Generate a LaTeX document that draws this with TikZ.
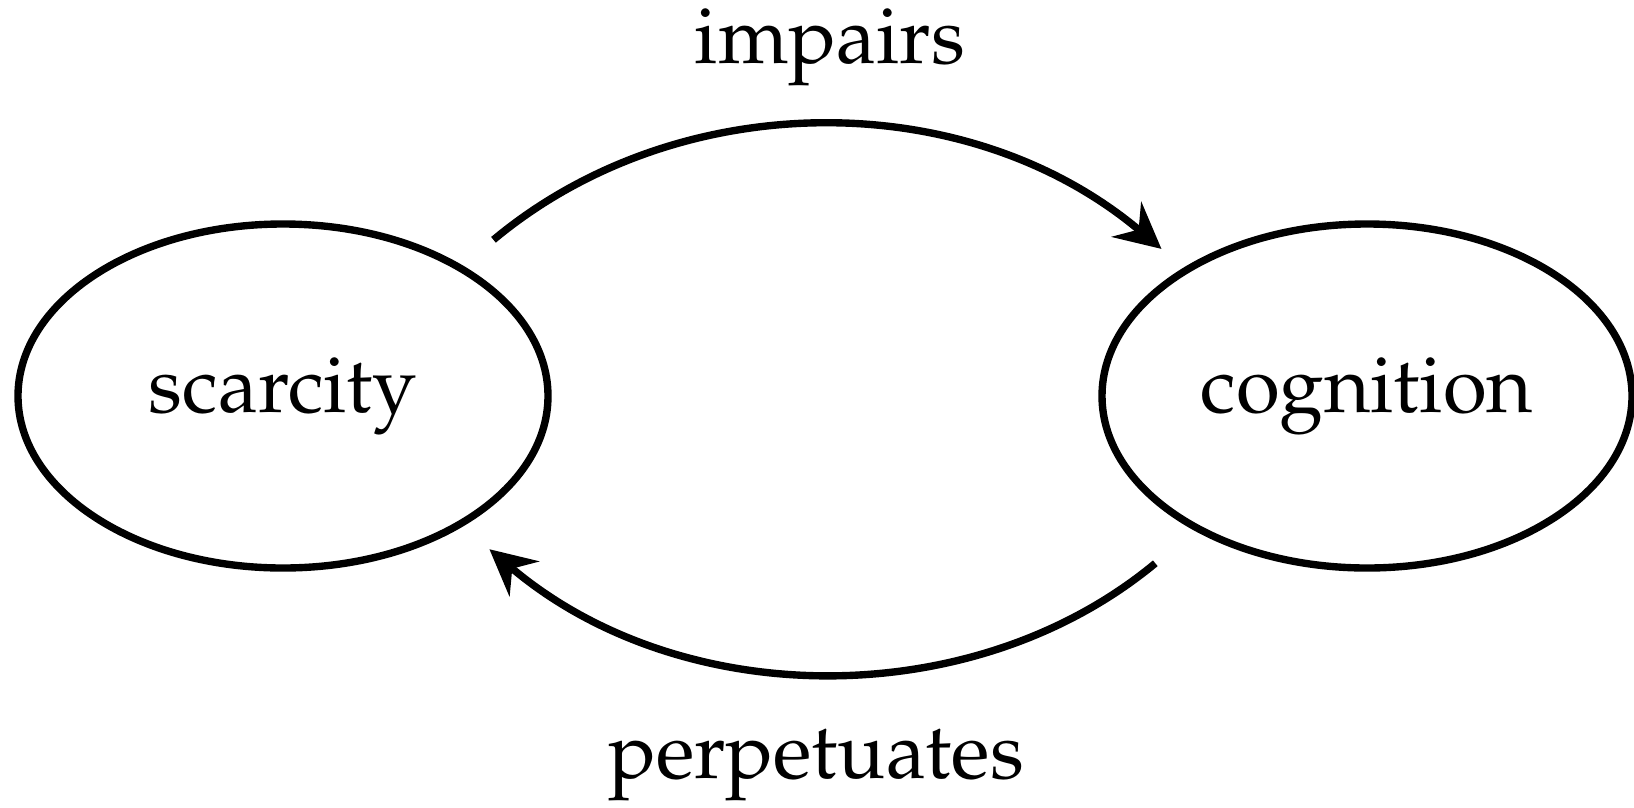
\documentclass[tikz,border=0pt]{standalone}
\usepackage[T1]{fontenc}
\usepackage{mathpazo}
\usepackage{tikz}
\usetikzlibrary{arrows.meta,positioning,shapes.geometric}
\tikzset{
  stateell/.style={
    ellipse, draw=black, line width=2.1pt,
    minimum width=5.3cm, minimum height=3.44cm,
    font=\fontsize{22.7}{27}\selectfont, inner sep=0pt
  },
  loopedge/.style={
    -{Stealth[length=13pt,width=13pt,inset=4.5pt]}, line width=2.1pt
  },
  edgelabel/.style={
    font=\fontsize{22.7}{27}\selectfont, inner sep=0pt
  },
}
\begin{document}
\begin{tikzpicture}
\useasboundingbox (0,0) rectangle (16.34,8.07);

% the two states
\node[stateell] (scar) at (2.83,4.11) {scarcity};
\node[stateell] (cogn) at (13.67,4.11) {cognition};

% the loop between them
\draw[loopedge, shorten <=0.4cm, shorten >=0.29cm]
  (scar.36.5) to[bend left=40] (cogn.145);
\draw[loopedge, shorten <=0.51cm, shorten >=0.35cm]
  (cogn.218) to[bend left=40] (scar.-36.6);

% labels
\node[edgelabel] (impl) at (8.30,7.60) {impairs};
\node[edgelabel] (perl) at (8.16,0.41) {perpetuates};

\end{tikzpicture}
\end{document}
